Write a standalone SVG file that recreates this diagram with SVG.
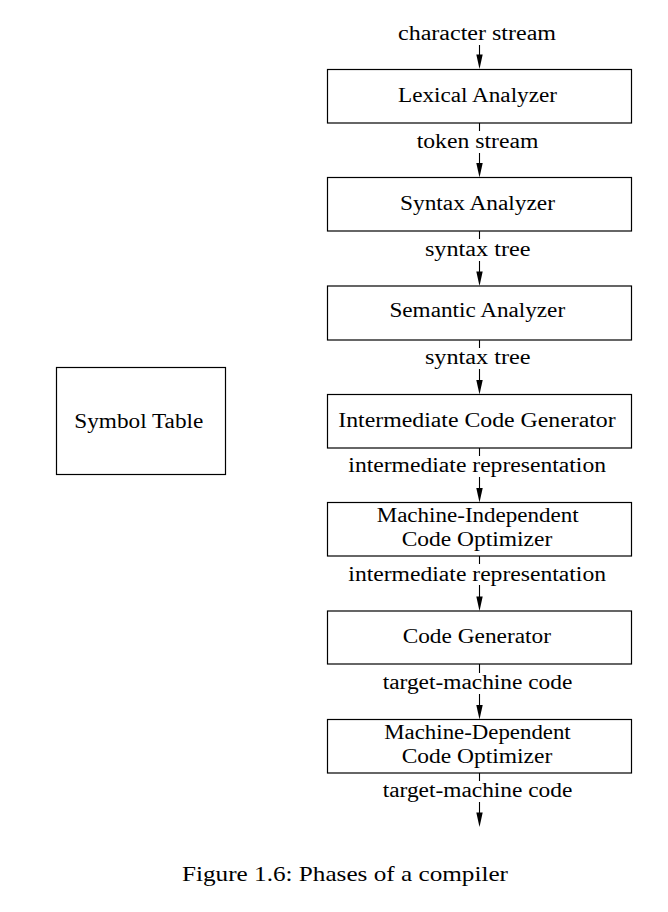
<svg xmlns="http://www.w3.org/2000/svg" width="668" height="912" viewBox="0 0 668 912">
<style>
.box{fill:#fff;stroke:#000;stroke-width:1.2}
.t{font-family:"Liberation Serif","Times New Roman",serif;font-size:20px;fill:#000;text-anchor:middle}
.cap{font-size:22px}
.ln{stroke:#000;stroke-width:1.1;fill:none}
.ah{fill:#000;stroke:none}
</style>
<rect width="668" height="912" fill="#fff"/>
<g id="connectors">
<line class="ln" x1="479.5" y1="45" x2="479.5" y2="60"/>
<polygon class="ah" points="479.5,69 476.3,54.5 482.7,54.5"/>
<line class="ln" x1="479.5" y1="123" x2="479.5" y2="131"/>
<line class="ln" x1="479.5" y1="153" x2="479.5" y2="168"/>
<polygon class="ah" points="479.5,177.5 476.3,163 482.7,163"/>
<line class="ln" x1="479.5" y1="231" x2="479.5" y2="239"/>
<line class="ln" x1="479.5" y1="261" x2="479.5" y2="276"/>
<polygon class="ah" points="479.5,286 476.3,271.5 482.7,271.5"/>
<line class="ln" x1="479.5" y1="340" x2="479.5" y2="348"/>
<line class="ln" x1="479.5" y1="369" x2="479.5" y2="384"/>
<polygon class="ah" points="479.5,394.5 476.3,380 482.7,380"/>
<line class="ln" x1="479.5" y1="448" x2="479.5" y2="456"/>
<line class="ln" x1="479.5" y1="477" x2="479.5" y2="492"/>
<polygon class="ah" points="479.5,502.5 476.3,488 482.7,488"/>
<line class="ln" x1="479.5" y1="556" x2="479.5" y2="564"/>
<line class="ln" x1="479.5" y1="585" x2="479.5" y2="600"/>
<polygon class="ah" points="479.5,611 476.3,596.5 482.7,596.5"/>
<line class="ln" x1="479.5" y1="664" x2="479.5" y2="673"/>
<line class="ln" x1="479.5" y1="694" x2="479.5" y2="709"/>
<polygon class="ah" points="479.5,719.5 476.3,705 482.7,705"/>
<line class="ln" x1="479.5" y1="773" x2="479.5" y2="781"/>
<line class="ln" x1="479.5" y1="802" x2="479.5" y2="817"/>
<polygon class="ah" points="479.5,827 476.3,812.5 482.7,812.5"/>
</g>
<g id="labels">
<text class="t" x="477" y="40" textLength="158" lengthAdjust="spacingAndGlyphs">character stream</text>
<text class="t" x="477.5" y="148.3" textLength="121.7" lengthAdjust="spacingAndGlyphs">token stream</text>
<text class="t" x="477.8" y="255.8" textLength="105.7" lengthAdjust="spacingAndGlyphs">syntax tree</text>
<text class="t" x="477.8" y="364" textLength="105.7" lengthAdjust="spacingAndGlyphs">syntax tree</text>
<text class="t" x="477.2" y="472.3" textLength="257.7" lengthAdjust="spacingAndGlyphs">intermediate representation</text>
<text class="t" x="477.2" y="580.5" textLength="257.7" lengthAdjust="spacingAndGlyphs">intermediate representation</text>
<text class="t" x="477.5" y="689.3" textLength="189.6" lengthAdjust="spacingAndGlyphs">target-machine code</text>
<text class="t" x="477.5" y="796.7" textLength="189.6" lengthAdjust="spacingAndGlyphs">target-machine code</text>
</g>
<g id="lexical">
<rect class="box" x="327.5" y="69.5" width="304" height="53.5"/>
<text class="t" x="477.5" y="101.7" textLength="159" lengthAdjust="spacingAndGlyphs">Lexical Analyzer</text>
</g>
<g id="syntax">
<rect class="box" x="327.5" y="177.5" width="304" height="53.5"/>
<text class="t" x="477.5" y="210" textLength="155" lengthAdjust="spacingAndGlyphs">Syntax Analyzer</text>
</g>
<g id="semantic">
<rect class="box" x="327.5" y="286" width="304" height="54"/>
<text class="t" x="477.3" y="317.3" textLength="175.7" lengthAdjust="spacingAndGlyphs">Semantic Analyzer</text>
</g>
<g id="icg">
<rect class="box" x="327.5" y="394.5" width="304" height="53.5"/>
<text class="t" x="477" y="426.7" textLength="277.4" lengthAdjust="spacingAndGlyphs">Intermediate Code Generator</text>
</g>
<g id="mico">
<rect class="box" x="327.5" y="502.5" width="304" height="53.5"/>
<text class="t" x="477.7" y="522.3" textLength="202" lengthAdjust="spacingAndGlyphs">Machine-Independent</text>
<text class="t" x="477" y="546" textLength="150.6" lengthAdjust="spacingAndGlyphs">Code Optimizer</text>
</g>
<g id="codegen">
<rect class="box" x="327.5" y="611" width="304" height="53"/>
<text class="t" x="476.8" y="643.3" textLength="148.3" lengthAdjust="spacingAndGlyphs">Code Generator</text>
</g>
<g id="mdco">
<rect class="box" x="327.5" y="719.5" width="304" height="53.5"/>
<text class="t" x="477.5" y="739.3" textLength="186.4" lengthAdjust="spacingAndGlyphs">Machine-Dependent</text>
<text class="t" x="477" y="763.3" textLength="150.6" lengthAdjust="spacingAndGlyphs">Code Optimizer</text>
</g>
<g id="symtab">
<rect class="box" x="56.5" y="367.5" width="169" height="107"/>
<text class="t" x="138.8" y="427.5" textLength="129" lengthAdjust="spacingAndGlyphs">Symbol Table</text>
</g>
<g id="caption">
<text class="t cap" x="345" y="880.7" textLength="326" lengthAdjust="spacingAndGlyphs">Figure 1.6: Phases of a compiler</text>
</g>
</svg>
